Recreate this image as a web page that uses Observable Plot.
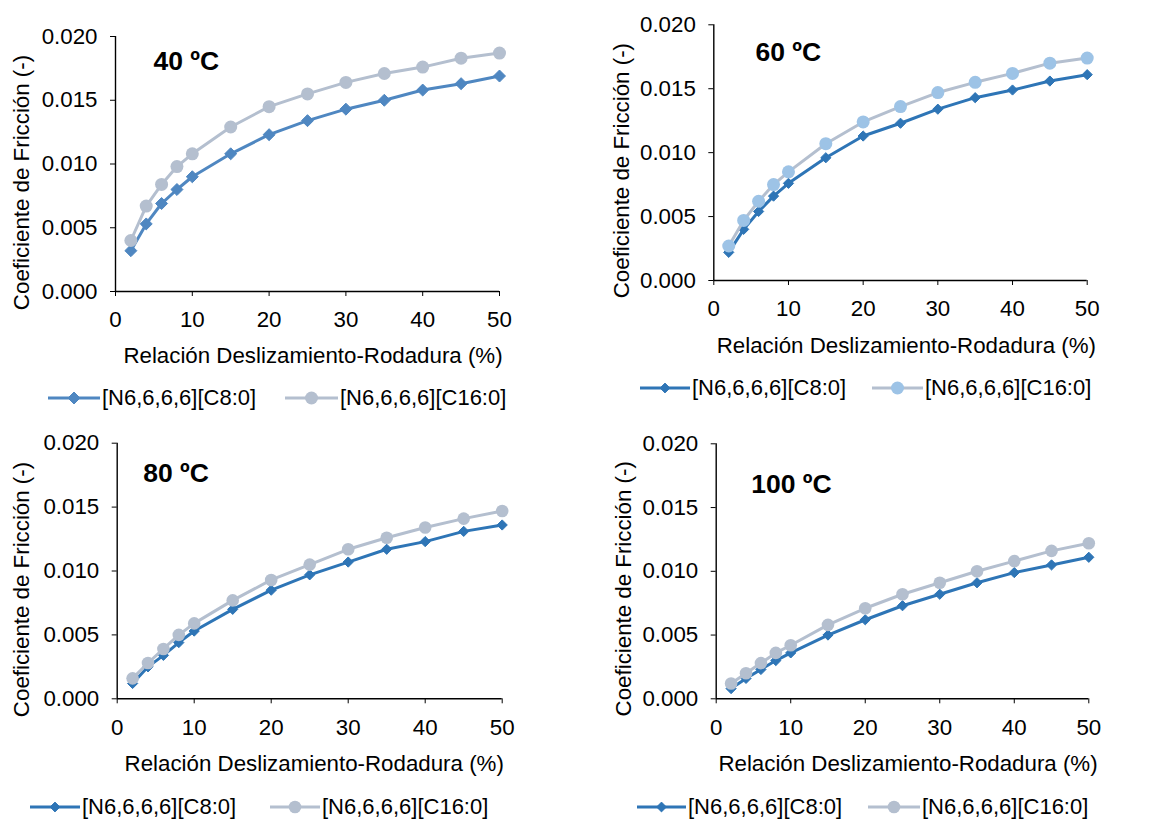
<!DOCTYPE html>
<html>
<head>
<meta charset="utf-8">
<script src="https://cdn.jsdelivr.net/npm/d3@7"></script>
<script src="https://cdn.jsdelivr.net/npm/@observablehq/plot@0.6"></script>
<style>
  html, body { margin: 0; padding: 0; background: #fff; }
  #root { position: relative; width: 1158px; height: 821px; overflow: hidden; font-family: "Liberation Sans", Arial, sans-serif; color: #000; }
  .panel { position: absolute; }
  .leg { position: absolute; display: flex; align-items: center; height: 28px; font-size: 22px; white-space: nowrap; }
  .leg svg { display: block; }
</style>
</head>
<body>
<div id="root"></div>
<script>
// ---- data ----
const slip = [2, 4, 6, 8, 10, 15, 20, 25, 30, 35, 40, 45, 50];
const seriesNames = ["[N6,6,6,6][C8:0]", "[N6,6,6,6][C16:0]"];
const temps = ["40 ºC", "60 ºC", "80 ºC", "100 ºC"];
const c8_40  = [0.0032, 0.0053, 0.0069, 0.0080, 0.0090, 0.0108, 0.0123, 0.0134, 0.0143, 0.0150, 0.0158, 0.0163, 0.0169];
const c16_40 = [0.0040, 0.0067, 0.0084, 0.0098, 0.0108, 0.0129, 0.0145, 0.0155, 0.0164, 0.0171, 0.0176, 0.0183, 0.0187];
const c8_60  = [0.0022, 0.0040, 0.0054, 0.0066, 0.0076, 0.0096, 0.0113, 0.0123, 0.0134, 0.0143, 0.0149, 0.0156, 0.0161];
const c16_60 = [0.0027, 0.0047, 0.0062, 0.0075, 0.0085, 0.0107, 0.0124, 0.0136, 0.0147, 0.0155, 0.0162, 0.0170, 0.0174];
const c8_80  = [0.0012, 0.0025, 0.0034, 0.0044, 0.0053, 0.0070, 0.0085, 0.0097, 0.0107, 0.0117, 0.0123, 0.0131, 0.0136];
const c16_80 = [0.0016, 0.0028, 0.0039, 0.0050, 0.0059, 0.0077, 0.0093, 0.0105, 0.0117, 0.0126, 0.0134, 0.0141, 0.0147];
const c8_100  = [0.0008, 0.0016, 0.0023, 0.0030, 0.0036, 0.0050, 0.0062, 0.0073, 0.0082, 0.0091, 0.0099, 0.0105, 0.0111];
const c16_100 = [0.0012, 0.0020, 0.0028, 0.0036, 0.0042, 0.0058, 0.0071, 0.0082, 0.0091, 0.0100, 0.0108, 0.0116, 0.0122];
const xTicks = [0, 10, 20, 30, 40, 50];
const yTicks = [0, 0.005, 0.010, 0.015, 0.020];
const xLabel = "Relación Deslizamiento-Rodadura (%)";
const yLabel = "Coeficiente de Fricción (-)";

const FONT = "Liberation Sans, Arial, sans-serif";
const BLUE1 = "#4f87c1", BLUE = "#2e75b6", GREY = "#b4bfcf", LIGHTBLUE = "#9dc3e6";

const panels = [
  { title: temps[0], c8: c8_40, c16: c16_40, left: 0, top: 0, w: 560, ml: 115, mr: 61, mt: 36, y0: 291,
    c8col: BLUE1, c16line: GREY, c16mark: GREY, dr: 5.4, cr: 6.5,
    tdx: 38, tdy: 25, xdx: 5.5, xdy: 64, ydx: -94, ydy: 18.5,
    leg: [{ x: 48, t: 102 }, { x: 285, t: 340 }], legY: 398, legDr: 5.4 },
  { title: temps[1], c8: c8_60, c16: c16_60, left: 580, top: 0, w: 578, ml: 133.3, mr: 71.3, mt: 24.3, y0: 280,
    c8col: BLUE, c16line: GREY, c16mark: LIGHTBLUE, dr: 4.6, cr: 6.5,
    tdx: 41.7, tdy: 28.2, xdx: 5.8, xdy: 65, ydx: -91.6, ydy: 18,
    leg: [{ x: 640, t: 692 }, { x: 872, t: 925 }], legY: 388, legDr: 4.4 },
  { title: temps[2], c8: c8_80, c16: c16_80, left: 0, top: 420, w: 560, ml: 116.7, mr: 58.3, mt: 22.7, y0: 698.3,
    c8col: BLUE, c16line: GREY, c16mark: GREY, dr: 4.6, cr: 6.3,
    tdx: 26, tdy: 30.3, xdx: 4.5, xdy: 64.7, ydx: -95, ydy: 18.5,
    leg: [{ x: 30, t: 82 }, { x: 270, t: 322 }], legY: 807, legDr: 4.4 },
  { title: temps[3], c8: c8_100, c16: c16_100, left: 580, top: 420, w: 578, ml: 135.7, mr: 69.7, mt: 23.3, y0: 698.3,
    c8col: BLUE, c16line: GREY, c16mark: GREY, dr: 4.6, cr: 6.3,
    tdx: 35, tdy: 41.2, xdx: 5.5, xdy: 64.7, ydx: -92.7, ydy: 17.5,
    leg: [{ x: 637, t: 688 }, { x: 868, t: 922 }], legY: 807, legDr: 4.4 }
];

const root = document.getElementById("root");

for (const p of panels) {
  const H = 375;
  const mb = H - (p.y0 - p.top);
  const d8 = slip.map((s, i) => ({ x: s, y: p.c8[i] }));
  const d16 = slip.map((s, i) => ({ x: s, y: p.c16[i] }));
  const chart = Plot.plot({
    width: p.w, height: H,
    marginLeft: p.ml, marginRight: p.mr, marginTop: p.mt, marginBottom: mb,
    style: { fontFamily: FONT, fontSize: "22.3px", color: "#000", background: "transparent", overflow: "visible" },
    x: { domain: [0, 50], ticks: xTicks, tickSize: 5, tickPadding: 15, label: null },
    y: { domain: [0, 0.02], ticks: yTicks, tickFormat: d3.format(".3f"), tickSize: 5, tickPadding: 13, label: null },
    marks: [
      Plot.ruleY([0], { stroke: "#000", strokeWidth: 1.4 }),
      Plot.ruleX([0], { stroke: "#000", strokeWidth: 1.4 }),
      Plot.line(d8, { x: "x", y: "y", stroke: p.c8col, strokeWidth: 3 }),
      Plot.dot(d8, { x: "x", y: "y", symbol: "diamond2", r: p.dr, fill: p.c8col, stroke: p.c8col, strokeWidth: 1 }),
      Plot.line(d16, { x: "x", y: "y", stroke: p.c16line, strokeWidth: 3 }),
      Plot.dot(d16, { x: "x", y: "y", symbol: "circle", r: p.cr, fill: p.c16mark, stroke: "none" }),
      Plot.text([p.title], { frameAnchor: "top-left", text: d => d, textAnchor: "start", lineAnchor: "middle",
        dx: p.tdx, dy: p.tdy, fontSize: 26.5, fontWeight: "bold", fill: "#000" }),
      Plot.text([xLabel], { frameAnchor: "bottom", text: d => d, textAnchor: "middle", lineAnchor: "middle",
        dx: p.xdx, dy: p.xdy, fontSize: 22.3, fill: "#000" }),
      Plot.text([yLabel], { frameAnchor: "left", text: d => d, rotate: -90, textAnchor: "middle", lineAnchor: "middle",
        dx: p.ydx, dy: p.ydy, fontSize: 22.3, fill: "#000" })
    ]
  });
  const div = document.createElement("div");
  div.className = "panel";
  div.style.left = p.left + "px";
  div.style.top = p.top + "px";
  div.appendChild(chart);
  root.appendChild(div);

  // legend
  const specs = [
    { line: p.c8col, mark: p.c8col, shape: "diamond" },
    { line: p.c16line, mark: p.c16mark, shape: "circle" }
  ];
  specs.forEach((s, i) => {
    const pos = p.leg[i];
    const item = document.createElement("div");
    item.className = "leg";
    item.style.left = pos.x + "px";
    item.style.top = (p.legY - 14) + "px";
    const lw = pos.t - pos.x - 2;
    const svg = d3.create("svg").attr("width", lw).attr("height", 28);
    svg.append("line").attr("x1", 0).attr("x2", lw).attr("y1", 14).attr("y2", 14)
      .attr("stroke", s.line).attr("stroke-width", 3);
    if (s.shape === "diamond") {
      const sz = Math.PI * p.legDr * p.legDr;
      svg.append("path").attr("d", d3.symbol(d3.symbolDiamond2, sz)())
        .attr("transform", `translate(${lw / 2},14)`).attr("fill", s.mark).attr("stroke", s.mark);
    } else {
      svg.append("circle").attr("cx", lw / 2).attr("cy", 14).attr("r", p.cr).attr("fill", s.mark);
    }
    item.appendChild(svg.node());
    const span = document.createElement("span");
    span.style.marginLeft = "2px";
    span.textContent = seriesNames[i];
    item.appendChild(span);
    root.appendChild(item);
  });
}
</script>
</body>
</html>
